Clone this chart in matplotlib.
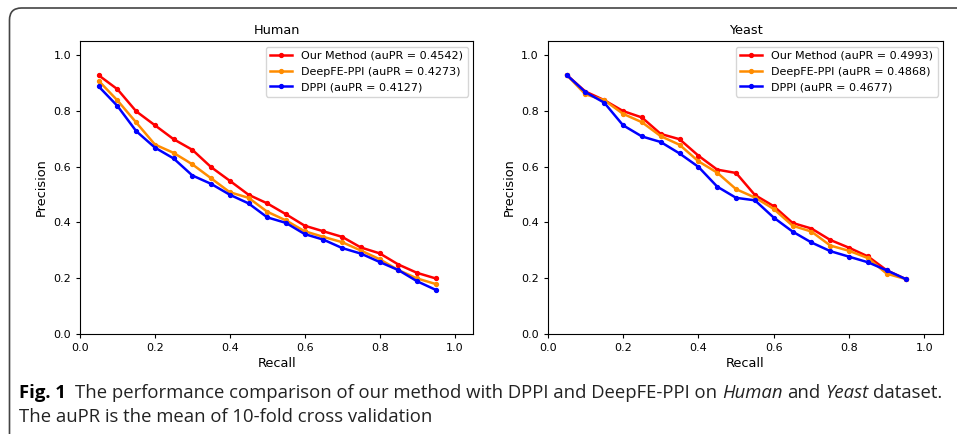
import numpy as np
import matplotlib
matplotlib.use("Agg")
import matplotlib.pyplot as plt
from matplotlib.patches import FancyBboxPatch
from matplotlib.transforms import IdentityTransform

# recall points shared by every curve
recall = [0.05, 0.10, 0.15, 0.20, 0.25, 0.30, 0.35, 0.40, 0.45, 0.50,
          0.55, 0.60, 0.65, 0.70, 0.75, 0.80, 0.85, 0.90, 0.95]

# Human dataset precision
human_ours = [0.927, 0.877, 0.798, 0.748, 0.698, 0.660, 0.598, 0.549, 0.499, 0.468,
              0.429, 0.388, 0.368, 0.348, 0.310, 0.289, 0.249, 0.219, 0.199]
human_deepfe = [0.907, 0.837, 0.758, 0.679, 0.649, 0.608, 0.558, 0.508, 0.488, 0.438,
                0.407, 0.368, 0.348, 0.329, 0.299, 0.268, 0.229, 0.199, 0.179]
human_dppi = [0.887, 0.817, 0.727, 0.668, 0.629, 0.568, 0.538, 0.499, 0.468, 0.418,
              0.398, 0.358, 0.338, 0.308, 0.288, 0.258, 0.229, 0.189, 0.158]

# Yeast dataset precision
yeast_ours = [0.929, 0.869, 0.838, 0.799, 0.776, 0.717, 0.698, 0.639, 0.589, 0.577,
              0.498, 0.458, 0.398, 0.378, 0.337, 0.309, 0.278, 0.228, 0.197]
yeast_deepfe = [0.929, 0.859, 0.838, 0.789, 0.759, 0.709, 0.678, 0.619, 0.578, 0.519,
                0.489, 0.448, 0.388, 0.367, 0.317, 0.298, 0.272, 0.216, 0.197]
yeast_dppi = [0.929, 0.867, 0.829, 0.748, 0.708, 0.688, 0.647, 0.599, 0.528, 0.488,
              0.479, 0.417, 0.367, 0.328, 0.297, 0.277, 0.257, 0.228, 0.197]

method_names = ["Our Method", "DeepFE-PPI", "DPPI"]
human_aupr = ["0.4542", "0.4273", "0.4127"]
yeast_aupr = ["0.4993", "0.4868", "0.4677"]
colors = ["red", "darkorange", "blue"]

W, H = 957, 434
fig = plt.figure(figsize=(W / 100, H / 100), dpi=100)

panels = [
    ("Human", [human_ours, human_deepfe, human_dppi], human_aupr, [80, 473.3]),
    ("Yeast", [yeast_ours, yeast_deepfe, yeast_dppi], yeast_aupr, [547.7, 943.3]),
]

for title, series, aupr, (x0, x1) in panels:
    ax = fig.add_axes([x0 / W, (H - 334) / H, (x1 - x0) / W, 293 / H])
    for prec, name, score, c in zip(series, method_names, aupr, colors):
        ax.plot(recall, prec, color=c, lw=1.8, marker="o", ms=2.8,
                label=f"{name} (auPR = {score})")
    ax.set_xlim(0, 1.05)
    ax.set_ylim(0, 1.05)
    ax.set_xticks(np.arange(0, 1.01, 0.2))
    ax.set_yticks(np.arange(0, 1.01, 0.2))
    ax.tick_params(labelsize=8, length=3)
    ax.set_title(title, fontsize=9.3, pad=5)
    ax.set_xlabel("Recall", fontsize=9.3, labelpad=3)
    ax.set_ylabel("Precision", fontsize=9.3)
    ax.legend(loc="upper right", fontsize=8, handlelength=2, borderaxespad=0.5)

# rounded frame round the whole figure
frame = FancyBboxPatch((9.5, -40), 1100, H - 8 + 40,
                       boxstyle="round,pad=0,rounding_size=12",
                       transform=IdentityTransform(), fill=False,
                       ec="#444444", lw=1.2)
fig.patches.append(frame)

# caption, laid out piece by piece
renderer = fig.canvas.get_renderer()
cap_font = "Open Sans"
cap_size = 13.3


def width_of(s, **kw):
    t = fig.text(0, 0, s, fontsize=cap_size, family=cap_font, **kw)
    w = t.get_window_extent(renderer).width
    t.remove()
    return w


space = width_of("a a") - width_of("aa")

line1 = [("Fig. 1", dict(weight="bold", color="black"), 2),
         ("The performance comparison of our method with DPPI and DeepFE-PPI on", {}, 1),
         ("Human", dict(style="italic"), 1),
         ("and", {}, 1),
         ("Yeast", dict(style="italic"), 1),
         ("dataset.", {}, 0)]
line2 = [("The auPR is the mean of 10-fold cross validation", {}, 0)]

for pieces, ypix in [(line1, 393), (line2, 417)]:
    x = 19
    for s, kw, gap in pieces:
        kw = dict(kw)
        kw.setdefault("color", "#222222")
        t = fig.text(x / W, (H - ypix) / H, s, fontsize=cap_size, family=cap_font,
                     va="center", ha="left", **kw)
        x += t.get_window_extent(renderer).width + gap * space

fig.savefig("out.png", dpi=100)
